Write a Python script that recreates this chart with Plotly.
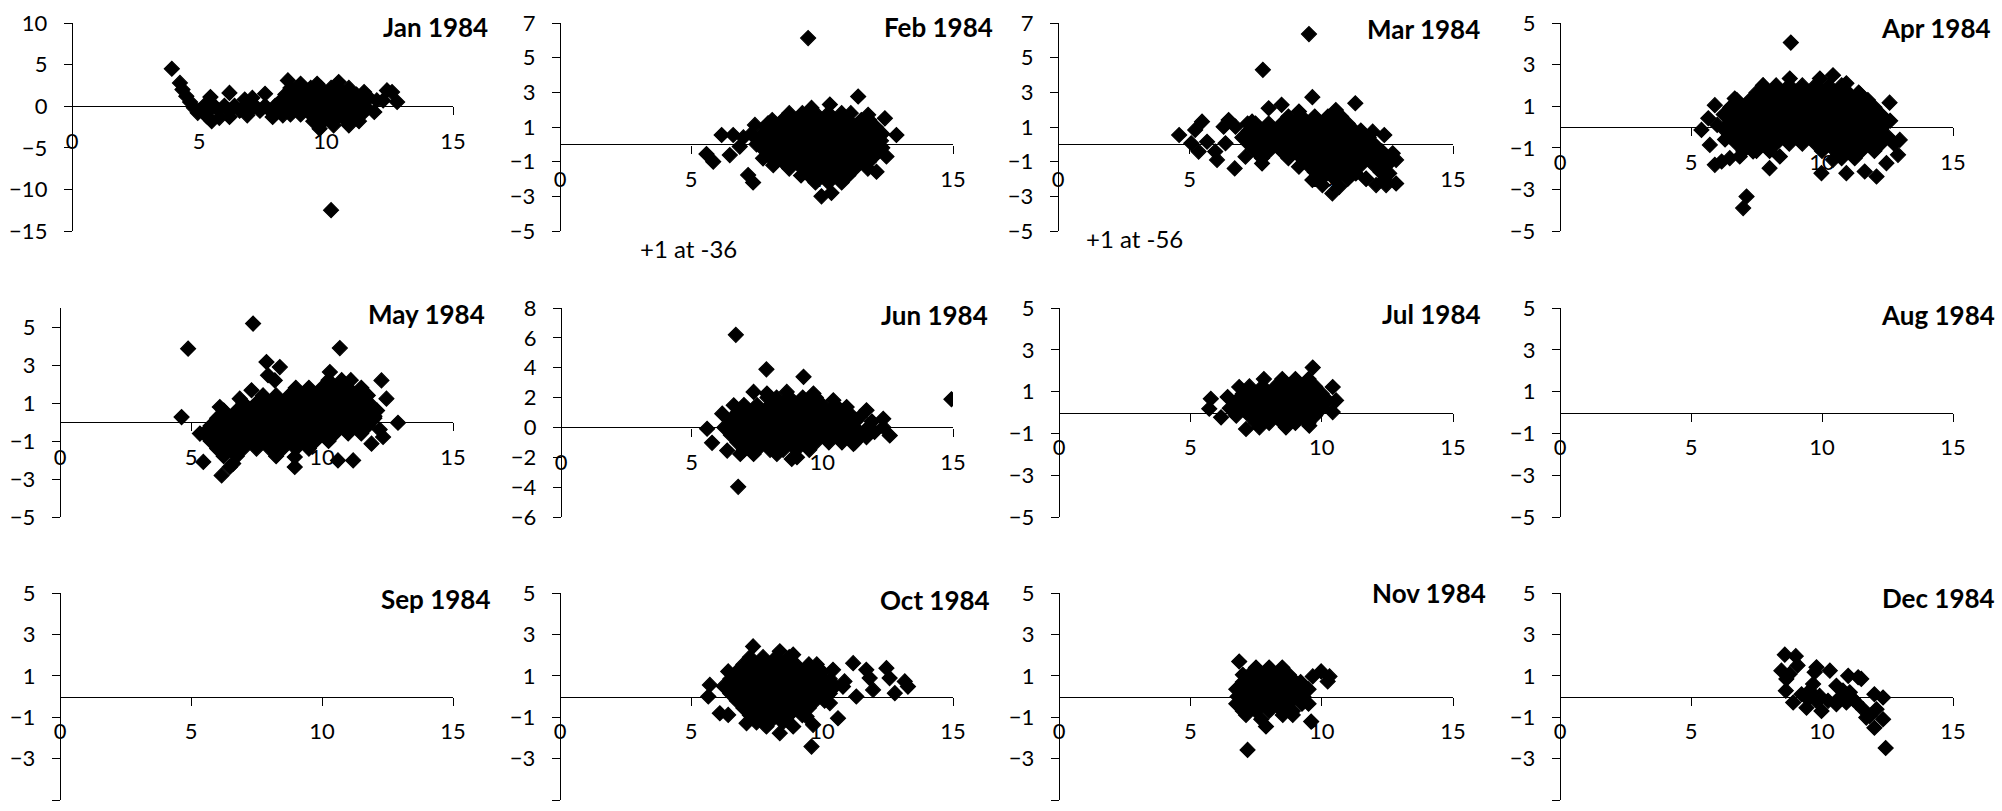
import plotly.graph_objects as go

# ---------------------------------------------------------------- data
YEAR = 1984
MONTHS = ["Jan", "Feb", "Mar", "Apr", "May", "Jun",
          "Jul", "Aug", "Sep", "Oct", "Nov", "Dec"]

# y-axis limits and major unit for each month
Y_MIN = [-15, -5, -5, -5, -5, -6, -5, -5, -5, -5, -5, -5]
Y_MAX = [10, 7, 7, 5, 6, 8, 5, 5, 5, 5, 5, 5]
Y_STEP = [5, 2, 2, 2, 2, 2, 2, 2, 2, 2, 2, 2]
X_MIN, X_MAX, X_STEP = 0, 15, 5

# off-scale notes: (month index, text)
NOTES = [(1, "+1 at -36"), (2, "+1 at -56")]

JAN = [
    (3.93, 4.5), (4.25, 2.8), (4.35, 2.0), (4.5, 1.2), (4.65, 0.5), (4.8, -0.2), (4.95, -0.8),
    (5.2, 0.05), (5.6, 0.05), (6.0, 0.05), (6.4, 0.05), (6.8, 0.05), (7.2, 0.05), (7.6, 0.05), (8.0, 0.05),
    (5.0, -0.55), (5.4, -0.55), (5.8, -0.55), (6.2, -0.55), (6.6, -0.55), (7.0, -0.55), (7.4, -0.55),
    (7.8, -0.55), (8.2, -0.55),
    (5.45, 1.1), (6.2, 1.6), (6.8, 0.8), (7.1, 1.0), (7.6, 1.5), (5.3, -1.2), (5.5, -1.8), (5.8, -1.4),
    (6.2, -1.3), (6.9, -1.1), (7.9, -1.3),
    (8.6, 2.2), (9.0, 2.2), (9.4, 2.2), (9.8, 2.2), (10.2, 2.2), (10.5, 2.2),
    (8.4, 1.4), (8.8, 1.4), (9.2, 1.4), (9.6, 1.4), (10.0, 1.4), (10.4, 1.4), (10.8, 1.4), (11.2, 1.4),
    (8.2, 0.6), (8.6, 0.6), (9.0, 0.6), (9.4, 0.6), (9.8, 0.6), (10.2, 0.6), (10.6, 0.6), (11.0, 0.6),
    (11.4, 0.6), (11.7, 1.0),
    (8.4, -0.2), (8.8, -0.2), (9.2, -0.2), (9.6, -0.2), (10.0, -0.2), (10.4, -0.2), (10.8, -0.2),
    (11.2, -0.2), (11.6, -0.2),
    (8.6, -1.0), (9.0, -1.0), (9.4, -1.0), (9.8, -1.0), (10.2, -1.0), (10.6, -1.0), (11.0, -1.0), (11.4, -1.0),
    (9.5, -1.8), (9.9, -1.8), (10.3, -1.8), (10.8, -1.8), (11.3, -1.8),
    (8.5, 3.1), (9.0, 2.7), (9.65, 2.7), (10.5, 2.9), (10.9, 2.2), (11.5, 1.7), (9.75, -2.7), (10.3, -2.3),
    (10.9, -2.3), (8.3, -1.1),
    (11.9, -0.7), (12.0, 0.7), (12.25, 0.7), (12.4, 1.9), (12.6, 1.7), (12.8, 0.5),
    (10.2, -12.5),
]

FEB = [
    (9.47, 6.13), (11.38, 2.76),
    (5.59, -0.56), (5.85, -1.0), (6.17, 0.54), (6.48, -0.62), (6.61, 0.54), (6.86, -0.13), (7.0, 0.4),
    (7.18, -1.77), (7.37, -2.2), (7.44, 1.12), (7.3, 0.6), (7.6, 0.3), (7.75, -0.81), (7.94, 1.21), (7.5, 0.0),
    (8.75, 1.8), (9.25, 1.8), (9.75, 1.8), (10.25, 1.8), (10.75, 1.8), (11.1, 1.8),
    (8.1, 1.4), (8.5, 1.4), (9.0, 1.4), (9.5, 1.4), (10.0, 1.4), (10.5, 1.4), (11.0, 1.4), (11.5, 1.4), (11.8, 1.4),
    (7.9, 1.0), (8.25, 1.0), (8.75, 1.0), (9.25, 1.0), (9.75, 1.0), (10.25, 1.0), (10.75, 1.0), (11.25, 1.0),
    (11.75, 1.0), (12.05, 1.0),
    (7.7, 0.6), (8.0, 0.6), (8.5, 0.6), (9.0, 0.6), (9.5, 0.6), (10.0, 0.6), (10.5, 0.6), (11.0, 0.6),
    (11.5, 0.6), (12.0, 0.6), (12.3, 0.6),
    (7.75, 0.2), (8.25, 0.2), (8.75, 0.2), (9.25, 0.2), (9.75, 0.2), (10.25, 0.2), (10.75, 0.2), (11.25, 0.2),
    (11.75, 0.2), (12.25, 0.2),
    (7.7, -0.2), (8.0, -0.2), (8.5, -0.2), (9.0, -0.2), (9.5, -0.2), (10.0, -0.2), (10.5, -0.2), (11.0, -0.2),
    (11.5, -0.2), (12.0, -0.2), (12.3, -0.2),
    (7.95, -0.6), (8.25, -0.6), (8.75, -0.6), (9.25, -0.6), (9.75, -0.6), (10.25, -0.6), (10.75, -0.6),
    (11.25, -0.6), (11.75, -0.6), (12.05, -0.6),
    (8.2, -1.0), (8.5, -1.0), (9.0, -1.0), (9.5, -1.0), (10.0, -1.0), (10.5, -1.0), (11.0, -1.0), (11.5, -1.0),
    (11.8, -1.0),
    (8.75, -1.4), (9.25, -1.4), (9.75, -1.4), (10.25, -1.4), (10.75, -1.4), (11.25, -1.4), (11.75, -1.4),
    (9.2, -1.8), (9.5, -1.8), (10.0, -1.8), (10.5, -1.8), (11.0, -1.8),
    (9.75, -2.2), (10.25, -2.2), (10.75, -2.2),
    (9.98, -3.0), (10.36, -2.8), (12.08, -1.58), (12.46, -0.7), (12.84, 0.54), (12.4, 1.5), (11.76, 1.7),
    (10.3, 2.3), (9.6, 2.1), (8.14, -1.2),
]

MAR = [
    (9.53, 6.36), (7.78, 4.3), (9.66, 2.72), (11.29, 2.37), (8.49, 2.28), (8.0, 2.08),
    (4.6, 0.54), (5.06, 0.06), (5.21, 0.83), (5.47, 1.31), (5.34, -0.42), (5.66, 0.15), (5.97, -0.42),
    (6.04, -0.9), (6.29, 1.02), (6.48, 1.4), (6.74, 1.02), (6.36, 0.06), (6.71, -1.39),
    (7.37, 1.31), (7.75, -1.1), (7.12, -0.71), (9.15, 1.89), (10.55, 1.98), (9.15, -1.29), (9.66, -2.06),
    (10.04, -2.35), (10.42, -2.83), (10.68, -2.45), (11.31, -1.68), (11.7, -1.97),
    (11.95, 0.73), (12.39, 0.54), (12.08, -0.13), (12.71, -0.52), (12.84, -0.9), (12.08, -2.35),
    (12.46, -2.35), (12.84, -2.26), (12.58, -1.68), (12.33, -1.29),
    (8.75, 1.6), (9.25, 1.6), (9.75, 1.6), (10.25, 1.6), (10.75, 1.6),
    (7.2, 1.2), (7.5, 1.2), (8.0, 1.2), (8.5, 1.2), (9.0, 1.2), (9.5, 1.2), (10.0, 1.2), (10.5, 1.2), (11.0, 1.2),
    (7.25, 0.8), (7.75, 0.8), (8.25, 0.8), (8.75, 0.8), (9.25, 0.8), (9.75, 0.8), (10.25, 0.8), (10.75, 0.8),
    (11.25, 0.8), (11.5, 0.8),
    (7.0, 0.4), (7.5, 0.4), (8.0, 0.4), (8.5, 0.4), (9.0, 0.4), (9.5, 0.4), (10.0, 0.4), (10.5, 0.4),
    (11.0, 0.4), (11.5, 0.4), (11.8, 0.4),
    (7.25, 0.0), (7.75, 0.0), (8.25, 0.0), (8.75, 0.0), (9.25, 0.0), (9.75, 0.0), (10.25, 0.0), (10.75, 0.0),
    (11.25, 0.0), (11.75, 0.0), (12.0, 0.0),
    (7.5, -0.4), (8.0, -0.4), (8.5, -0.4), (9.0, -0.4), (9.5, -0.4), (10.0, -0.4), (10.5, -0.4), (11.0, -0.4),
    (11.5, -0.4), (12.0, -0.4), (12.3, -0.4),
    (7.75, -0.8), (8.75, -0.8), (9.25, -0.8), (9.75, -0.8), (10.25, -0.8), (10.75, -0.8), (11.25, -0.8),
    (11.75, -0.8), (12.25, -0.8), (12.6, -0.8),
    (9.5, -1.2), (10.0, -1.2), (10.5, -1.2), (11.0, -1.2), (11.5, -1.2), (12.0, -1.2), (12.5, -1.2),
    (9.75, -1.6), (10.25, -1.6), (10.75, -1.6), (11.25, -1.6), (12.25, -1.6),
    (10.0, -2.0), (10.5, -2.0), (11.0, -2.0), (11.7, -2.0), (12.4, -2.0),
]

APR = [
    (8.81, 4.06), (7.12, -3.34), (6.99, -3.9), (10.42, 2.49), (8.77, 2.33), (12.58, 1.17),
    (5.4, -0.14), (5.66, 0.42), (5.91, 1.05), (5.72, -0.86), (5.91, -1.82), (6.17, -1.66), (6.48, -1.5),
    (6.67, 1.37), (7.75, 2.0), (9.92, 2.33), (10.93, 2.1), (11.44, 1.6), (6.86, -1.42), (7.37, -1.18),
    (8.0, -1.98), (8.39, -1.42), (9.98, -2.22), (10.93, -2.22), (11.63, -2.14), (12.08, -2.38),
    (12.46, -1.74), (12.9, -1.34), (12.97, -0.62), (10.42, -1.58), (12.6, 0.3), (6.0, 0.1), (6.3, -0.6),
    (7.75, 2.0), (8.25, 2.0), (8.75, 2.0), (9.25, 2.0), (9.75, 2.0), (10.25, 2.0), (10.75, 2.0),
    (7.5, 1.65), (8.0, 1.65), (8.5, 1.65), (9.0, 1.65), (9.5, 1.65), (10.0, 1.65), (10.5, 1.65), (11.0, 1.65),
    (11.4, 1.65),
    (6.75, 1.3), (7.25, 1.3), (7.75, 1.3), (8.25, 1.3), (8.75, 1.3), (9.25, 1.3), (9.75, 1.3), (10.25, 1.3),
    (10.75, 1.3), (11.25, 1.3), (11.75, 1.3),
    (6.5, 0.95), (7.0, 0.95), (7.5, 0.95), (8.0, 0.95), (8.5, 0.95), (9.0, 0.95), (9.5, 0.95), (10.0, 0.95),
    (10.5, 0.95), (11.0, 0.95), (11.5, 0.95), (12.0, 0.95),
    (6.25, 0.6), (6.75, 0.6), (7.25, 0.6), (7.75, 0.6), (8.25, 0.6), (8.75, 0.6), (9.25, 0.6), (9.75, 0.6),
    (10.25, 0.6), (10.75, 0.6), (11.25, 0.6), (11.75, 0.6), (12.25, 0.6),
    (6.5, 0.25), (7.0, 0.25), (7.5, 0.25), (8.0, 0.25), (8.5, 0.25), (9.0, 0.25), (9.5, 0.25), (10.0, 0.25),
    (10.5, 0.25), (11.0, 0.25), (11.5, 0.25), (12.0, 0.25), (12.5, 0.25),
    (6.25, -0.1), (6.75, -0.1), (7.25, -0.1), (7.75, -0.1), (8.25, -0.1), (8.75, -0.1), (9.25, -0.1),
    (9.75, -0.1), (10.25, -0.1), (10.75, -0.1), (11.25, -0.1), (11.75, -0.1), (12.25, -0.1),
    (6.5, -0.45), (7.0, -0.45), (7.5, -0.45), (8.0, -0.45), (8.5, -0.45), (9.0, -0.45), (9.5, -0.45),
    (10.0, -0.45), (10.5, -0.45), (11.0, -0.45), (11.5, -0.45), (12.0, -0.45), (12.5, -0.45),
    (6.75, -0.8), (7.25, -0.8), (7.75, -0.8), (8.25, -0.8), (8.75, -0.8), (9.25, -0.8), (9.75, -0.8),
    (10.25, -0.8), (10.75, -0.8), (11.25, -0.8), (11.75, -0.8), (12.25, -0.8), (12.75, -0.8),
    (7.0, -1.15), (7.5, -1.15), (8.0, -1.15), (10.0, -1.15), (10.5, -1.15), (11.0, -1.15), (11.5, -1.15),
    (12.0, -1.15),
    (10.75, -1.5), (11.25, -1.5),
]

MAY = [
    (4.89, 3.86), (4.64, 0.26), (7.37, 5.18), (10.68, 3.89), (7.88, 3.16), (8.39, 2.89), (7.94, 2.46),
    (8.2, 2.19), (12.27, 2.19), (12.46, 1.23), (12.9, -0.04), (12.33, -0.79), (11.89, -1.14), (5.34, -0.61),
    (5.47, -2.1), (6.17, -2.81), (6.61, -2.19), (6.1, 0.79), (6.86, 1.23), (7.31, 1.67), (8.96, -1.84),
    (8.96, -2.37), (10.61, -2.02), (11.19, -2.02), (10.3, 2.63), (6.48, -2.37), (12.0, 0.3), (12.2, -0.4),
    (10.25, 2.2), (10.75, 2.2), (11.1, 2.2),
    (9.0, 1.8), (9.5, 1.8), (10.0, 1.8), (10.5, 1.8), (11.0, 1.8), (11.5, 1.8),
    (7.75, 1.4), (8.25, 1.4), (8.75, 1.4), (9.25, 1.4), (9.75, 1.4), (10.25, 1.4), (10.75, 1.4), (11.25, 1.4),
    (11.75, 1.4),
    (7.0, 1.0), (7.5, 1.0), (8.0, 1.0), (8.5, 1.0), (9.0, 1.0), (9.5, 1.0), (10.0, 1.0), (10.5, 1.0),
    (11.0, 1.0), (11.5, 1.0), (11.8, 1.0),
    (6.25, 0.6), (6.75, 0.6), (7.25, 0.6), (7.75, 0.6), (8.25, 0.6), (8.75, 0.6), (9.25, 0.6), (9.75, 0.6),
    (10.25, 0.6), (10.75, 0.6), (11.25, 0.6), (11.75, 0.6), (12.1, 0.6),
    (6.0, 0.2), (6.5, 0.2), (7.0, 0.2), (7.5, 0.2), (8.0, 0.2), (8.5, 0.2), (9.0, 0.2), (9.5, 0.2), (10.0, 0.2),
    (10.5, 0.2), (11.0, 0.2), (11.5, 0.2), (12.0, 0.2),
    (5.75, -0.2), (6.25, -0.2), (6.75, -0.2), (7.25, -0.2), (7.75, -0.2), (8.25, -0.2), (8.75, -0.2),
    (9.25, -0.2), (9.75, -0.2), (10.25, -0.2), (10.75, -0.2), (11.25, -0.2), (11.75, -0.2),
    (5.5, -0.6), (6.0, -0.6), (6.5, -0.6), (7.0, -0.6), (7.5, -0.6), (8.0, -0.6), (8.5, -0.6), (9.0, -0.6),
    (9.5, -0.6), (10.0, -0.6), (10.5, -0.6), (11.0, -0.6), (11.5, -0.6),
    (5.75, -1.0), (6.25, -1.0), (6.75, -1.0), (7.25, -1.0), (7.75, -1.0), (8.25, -1.0), (8.75, -1.0),
    (9.25, -1.0), (9.75, -1.0), (10.25, -1.0),
    (6.0, -1.4), (6.5, -1.4), (7.0, -1.4), (7.5, -1.4), (8.0, -1.4), (8.5, -1.4), (9.0, -1.4), (9.5, -1.4),
    (6.25, -1.8), (6.75, -1.8), (8.25, -1.8),
]

JUN = [
    (6.69, 6.2), (6.78, -3.98), (7.86, 3.89), (9.28, 3.39), (7.37, 2.38), (14.94, 1.89), (11.69, 1.15),
    (5.59, -0.09), (5.78, -1.03), (6.17, 0.92), (8.83, -2.11), (9.03, -2.0), (12.33, 0.02), (12.58, -0.54),
    (12.33, 0.58), (6.61, 1.48), (7.88, 2.27), (8.64, 2.38), (9.66, 2.27), (10.42, 1.82), (10.93, 1.37),
    (11.44, 0.7), (6.36, -1.55), (6.86, -1.78), (7.37, -1.78), (8.26, -1.78), (11.19, -1.1), (11.69, -0.65),
    (12.0, -0.3), (11.9, 0.4),
    (7.9, 2.0), (8.25, 2.0), (8.75, 2.0), (9.25, 2.0), (9.75, 2.0),
    (7.0, 1.5), (7.5, 1.5), (8.0, 1.5), (8.5, 1.5), (9.0, 1.5), (9.5, 1.5), (10.0, 1.5), (10.5, 1.5),
    (6.75, 1.0), (7.25, 1.0), (7.75, 1.0), (8.25, 1.0), (8.75, 1.0), (9.25, 1.0), (9.75, 1.0), (10.25, 1.0),
    (10.75, 1.0), (11.0, 1.0),
    (6.5, 0.5), (7.0, 0.5), (7.5, 0.5), (8.0, 0.5), (8.5, 0.5), (9.0, 0.5), (9.5, 0.5), (10.0, 0.5), (10.5, 0.5),
    (11.0, 0.5), (11.3, 0.5),
    (6.25, 0.0), (6.75, 0.0), (7.25, 0.0), (7.75, 0.0), (8.25, 0.0), (8.75, 0.0), (9.25, 0.0), (9.75, 0.0),
    (10.25, 0.0), (10.75, 0.0), (11.25, 0.0), (11.75, 0.0),
    (6.5, -0.5), (7.0, -0.5), (7.5, -0.5), (8.0, -0.5), (8.5, -0.5), (9.0, -0.5), (9.5, -0.5), (10.0, -0.5),
    (10.5, -0.5), (11.0, -0.5), (11.5, -0.5),
    (6.75, -1.0), (7.25, -1.0), (7.75, -1.0), (8.25, -1.0), (8.75, -1.0), (9.25, -1.0), (9.75, -1.0),
    (10.25, -1.0), (10.75, -1.0), (11.25, -1.0),
    (7.0, -1.5), (7.5, -1.5), (8.0, -1.5), (8.5, -1.5), (9.0, -1.5), (9.5, -1.5),
]

JUL = [
    (9.66, 2.15), (5.78, 0.66), (5.72, 0.18), (6.17, -0.23), (6.42, 0.74), (6.86, 1.22), (7.12, -0.79),
    (10.42, 1.22), (10.42, 0.02), (10.55, 0.58), (7.63, -0.71), (8.64, -0.71), (9.53, -0.63),
    (7.8, 1.6), (8.5, 1.6), (9.0, 1.6), (9.5, 1.6),
    (7.25, 1.25), (7.75, 1.25), (8.25, 1.25), (8.75, 1.25), (9.25, 1.25), (9.75, 1.25),
    (7.0, 0.9), (7.5, 0.9), (8.0, 0.9), (8.5, 0.9), (9.0, 0.9), (9.5, 0.9), (10.0, 0.9),
    (6.75, 0.55), (7.25, 0.55), (7.75, 0.55), (8.25, 0.55), (8.75, 0.55), (9.25, 0.55), (9.75, 0.55),
    (10.25, 0.55),
    (6.5, 0.2), (7.0, 0.2), (7.5, 0.2), (8.0, 0.2), (8.5, 0.2), (9.0, 0.2), (9.5, 0.2), (10.0, 0.2),
    (6.75, -0.15), (7.25, -0.15), (7.75, -0.15), (8.25, -0.15), (8.75, -0.15), (9.25, -0.15), (9.75, -0.15),
    (7.5, -0.5), (8.0, -0.5), (8.5, -0.5), (9.0, -0.5), (9.5, -0.5),
]

AUG = []
SEP = []

OCT = [
    (7.37, 2.42), (9.6, -2.42), (9.66, -1.37), (10.61, -1.05), (5.72, 0.56), (5.66, 0.0), (6.1, -0.81),
    (6.42, 1.21), (6.42, -0.89), (11.19, 1.61), (10.86, 0.73), (11.31, 0.0), (11.69, 1.29), (11.95, 0.32),
    (12.46, 1.37), (12.58, 0.89), (12.78, 0.16), (13.16, 0.73), (13.28, 0.48), (11.82, 0.89), (10.42, 1.29),
    (10.8, 0.48), (8.39, 2.18), (8.9, 2.02), (7.88, -1.45), (8.39, -1.77), (8.9, -1.45), (9.41, -0.97),
    (10.3, -0.32), (7.12, -1.29),
    (7.25, 1.9), (7.75, 1.9), (8.25, 1.9), (8.75, 1.9),
    (7.0, 1.55), (7.5, 1.55), (8.0, 1.55), (8.5, 1.55), (9.0, 1.55), (9.5, 1.55), (9.8, 1.55),
    (6.75, 1.2), (7.25, 1.2), (7.75, 1.2), (8.25, 1.2), (8.75, 1.2), (9.25, 1.2), (9.75, 1.2), (10.0, 1.2),
    (6.5, 0.85), (7.0, 0.85), (7.5, 0.85), (8.0, 0.85), (8.5, 0.85), (9.0, 0.85), (9.5, 0.85), (10.0, 0.85),
    (10.3, 0.85),
    (6.25, 0.5), (6.75, 0.5), (7.25, 0.5), (7.75, 0.5), (8.25, 0.5), (8.75, 0.5), (9.25, 0.5), (9.75, 0.5),
    (10.25, 0.5), (10.5, 0.5),
    (6.5, 0.15), (7.0, 0.15), (7.5, 0.15), (8.0, 0.15), (8.5, 0.15), (9.0, 0.15), (9.5, 0.15), (10.0, 0.15),
    (10.3, 0.15),
    (6.75, -0.2), (7.25, -0.2), (7.75, -0.2), (8.25, -0.2), (8.75, -0.2), (9.25, -0.2), (9.75, -0.2),
    (10.1, -0.2),
    (7.0, -0.55), (7.5, -0.55), (8.0, -0.55), (8.5, -0.55), (9.0, -0.55), (9.5, -0.55),
    (7.25, -0.9), (7.75, -0.9), (8.25, -0.9), (8.75, -0.9), (9.25, -0.9),
    (7.5, -1.25), (8.0, -1.25), (8.5, -1.25),
]

NOV = [
    (6.86, 1.69), (7.18, -2.58), (7.88, -1.45), (9.6, -1.21), (9.66, 0.97), (9.98, 1.21), (10.23, 0.73),
    (10.3, 0.97), (7.12, -0.89), (8.52, -0.89), (8.9, -0.89), (7.7, -1.1),
    (7.5, 1.4), (8.0, 1.4), (8.5, 1.4),
    (7.0, 1.05), (7.25, 1.05), (7.75, 1.05), (8.25, 1.05), (8.75, 1.05),
    (7.0, 0.7), (7.5, 0.7), (8.0, 0.7), (8.5, 0.7), (9.0, 0.7), (9.2, 0.7),
    (6.75, 0.35), (7.25, 0.35), (7.75, 0.35), (8.25, 0.35), (8.75, 0.35), (9.25, 0.35), (9.5, 0.35),
    (6.8, 0.0), (7.0, 0.0), (7.5, 0.0), (8.0, 0.0), (8.5, 0.0), (9.0, 0.0), (9.3, 0.0),
    (6.75, -0.35), (7.25, -0.35), (7.75, -0.35), (8.25, -0.35), (8.75, -0.35), (9.25, -0.35), (9.5, -0.35),
    (7.0, -0.7), (7.5, -0.7), (8.0, -0.7), (8.5, -0.7), (8.9, -0.7),
]

DEC = [
    (8.58, 2.02), (9.0, 1.95), (9.07, 1.5), (8.45, 1.25), (8.64, 0.85), (8.62, 0.28), (8.9, -0.29),
    (9.22, 0.11), (9.41, -0.54), (9.53, 0.28), (9.72, 1.17), (9.66, 0.6), (9.79, -0.21), (9.98, -0.7),
    (10.3, 1.25), (10.23, -0.21), (10.55, 0.52), (10.68, -0.05), (11.0, 1.0), (10.93, -0.29), (11.06, 0.2),
    (11.38, 0.93), (11.5, 0.85), (11.31, -0.29), (11.57, -0.62), (11.69, -1.02), (12.0, 0.11), (12.08, -0.62),
    (12.0, -1.51), (12.33, -1.1), (12.33, -0.05), (12.43, -2.49), (10.55, -0.37), (9.47, -0.13), (9.91, 0.03),
    (10.8, 0.28), (11.19, -0.13), (11.82, -0.94), (8.77, 1.09), (9.79, 1.41),
]

SERIES = [JAN, FEB, MAR, APR, MAY, JUN, JUL, AUG, SEP, OCT, NOV, DEC]

# ---------------------------------------------------------------- layout (pixels)
W, H = 2002, 811
FONT = "Lato"

# plot-area boxes: (left, right, top, bottom)
PANELS = [
    (72, 453, 23, 231), (560, 953, 23, 231), (1058, 1453, 23, 231), (1560, 1953, 23, 231),
    (60, 453, 308, 517), (561, 953, 308, 517), (1059, 1453, 308, 517), (1560, 1953, 308, 517),
    (60, 453, 593, 800), (560, 953, 593, 800), (1059, 1453, 593, 800), (1560, 1953, 593, 800),
]
# panel headings: right edge and vertical centre
HEADINGS = [
    (490, 27), (995, 27), (1482, 29), (1993, 28),
    (487, 314), (990, 315), (1483, 314), (1997, 315),
    (493, 599), (992, 600), (1488, 593), (1997, 598),
]
NOTE_POS = {1: (688, 249), 2: (1134, 238)}

AXIS_COLOR = "#000000"
LINE_W = 1.4

fig = go.Figure()
layout = {}
annotations = []

for i, (month, pts) in enumerate(zip(MONTHS, SERIES)):
    k = i + 1
    xname = "x" if k == 1 else f"x{k}"
    yname = "y" if k == 1 else f"y{k}"
    xkey = "xaxis" if k == 1 else f"xaxis{k}"
    ykey = "yaxis" if k == 1 else f"yaxis{k}"

    fig.add_trace(go.Scatter(
        x=[p[0] for p in pts], y=[p[1] for p in pts],
        mode="markers", xaxis=xname, yaxis=yname, showlegend=False,
        marker=dict(symbol="diamond", size=11.5, color="black",
                    line=dict(width=1.2, color="black")),
        hoverinfo="x+y",
    ))

    l, r, t, b = PANELS[i]
    xd = [l / W, r / W]
    yd = [1 - b / H, 1 - t / H]
    y0, y1 = Y_MIN[i], Y_MAX[i]
    # horizontal axis crosses the vertical one at y = 0
    cross = yd[0] + (0 - y0) / (y1 - y0) * (yd[1] - yd[0])

    layout[xkey] = dict(
        domain=xd, range=[X_MIN, X_MAX], tick0=X_MIN, dtick=X_STEP,
        anchor="free", position=cross, showgrid=False, zeroline=False,
        showline=True, linecolor=AXIS_COLOR, linewidth=LINE_W,
        ticks="outside", ticklen=8, tickwidth=LINE_W, tickcolor=AXIS_COLOR,
        tickfont=dict(family=FONT, size=22, color="black"),
        ticklabelstandoff=7, layer="below traces", fixedrange=True, automargin=False,
    )
    layout[ykey] = dict(
        domain=yd, range=[y0, y1], tick0=y0, dtick=Y_STEP[i],
        anchor="free", position=xd[0], showgrid=False, zeroline=False,
        showline=True, linecolor=AXIS_COLOR, linewidth=LINE_W,
        ticks="outside", ticklen=8, tickwidth=LINE_W, tickcolor=AXIS_COLOR,
        tickfont=dict(family=FONT, size=22, color="black"),
        ticklabelstandoff=12, layer="below traces", fixedrange=True, automargin=False,
    )

    hx, hy = HEADINGS[i]
    annotations.append(dict(
        text=f"{month} {YEAR}", xref="paper", yref="paper",
        x=hx / W, y=1 - hy / H, xanchor="right", yanchor="middle", showarrow=False,
        font=dict(family=FONT, size=26, color="black", weight="bold"),
    ))

for idx, note in NOTES:
    nx, ny = NOTE_POS[idx]
    annotations.append(dict(
        text=note, xref="paper", yref="paper", x=nx / W, y=1 - ny / H,
        xanchor="center", yanchor="middle", showarrow=False,
        font=dict(family=FONT, size=24, color="black"),
    ))

fig.update_layout(
    width=W, height=H,
    margin=dict(l=0, r=0, t=0, b=0, pad=0, autoexpand=False),
    paper_bgcolor="white", plot_bgcolor="rgba(0,0,0,0)",
    annotations=annotations, **layout,
)

fig.write_html("out.html", config={"displayModeBar": False})
